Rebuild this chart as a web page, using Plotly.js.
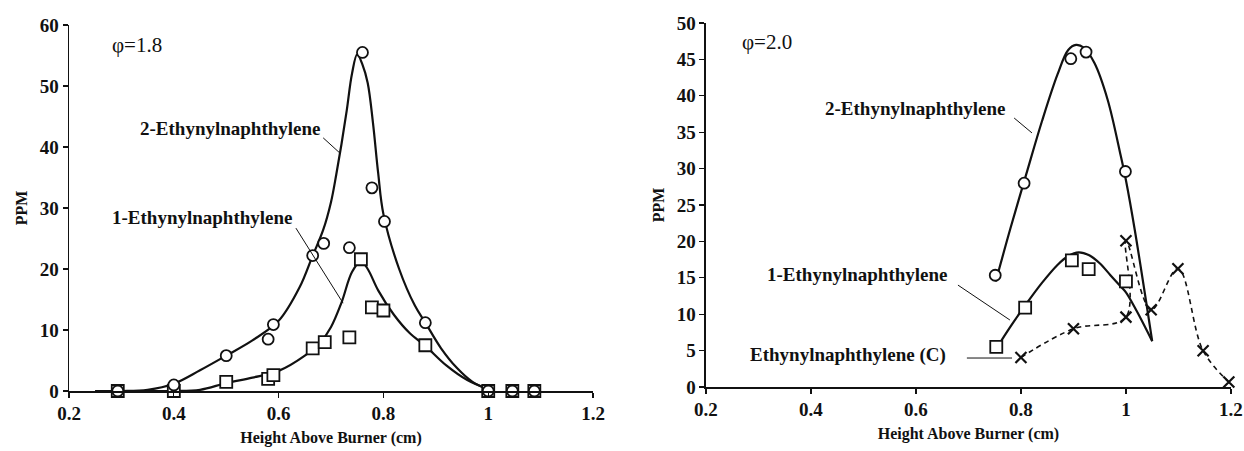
<!DOCTYPE html>
<html>
<head>
<meta charset="utf-8">
<script src="https://cdn.plot.ly/plotly-3.0.1.min.js"></script>
<style>
  html, body { margin: 0; padding: 0; background: #fff; }
  #chart { width: 1244px; height: 451px; }
</style>
</head>
<body>
<div id="chart"></div>
<script>
// ---- phi = 1.8 : measured concentrations (PPM) vs height above burner (cm)
const h18_2EN   = [0.293, 0.40, 0.50, 0.58, 0.59, 0.665, 0.686, 0.735, 0.76, 0.778, 0.802, 0.88, 1.0, 1.046, 1.088];
const ppm18_2EN = [0, 1.0, 5.8, 8.5, 10.9, 22.2, 24.2, 23.5, 55.5, 33.3, 27.8, 11.2, 0, 0, 0];
const h18_1EN   = [0.293, 0.40, 0.50, 0.58, 0.59, 0.665, 0.688, 0.735, 0.757, 0.778, 0.80, 0.88, 1.0, 1.046, 1.088];
const ppm18_1EN = [0, 0, 1.5, 2.0, 2.6, 7.0, 8.0, 8.8, 21.6, 13.7, 13.2, 7.5, 0, 0, 0];

// phi = 1.8 : fitted curves
const fitH18_2EN   = [0.25, 0.30, 0.35, 0.40, 0.45, 0.50, 0.55, 0.60, 0.64, 0.665, 0.685, 0.70, 0.71, 0.72, 0.73, 0.74, 0.75, 0.76, 0.77, 0.78, 0.79, 0.80, 0.83, 0.86, 0.88, 0.91, 0.94, 0.97, 1.00];
const fitPPM18_2EN = [0, 0, 0.2, 1.2, 3.4, 5.8, 8.3, 11.5, 17, 22.2, 26.4, 31, 35.5, 40.5, 46, 52, 55.2, 53.5, 50.5, 44, 35.7, 29, 20, 14, 11.2, 7, 3.8, 1.5, 0.3];
const fitH18_1EN   = [0.25, 0.30, 0.35, 0.40, 0.45, 0.50, 0.55, 0.60, 0.65, 0.68, 0.70, 0.72, 0.74, 0.757, 0.77, 0.79, 0.82, 0.85, 0.88, 0.92, 0.96, 1.00];
const fitPPM18_1EN = [0, 0, 0, 0, 0.2, 1.3, 2.2, 3.3, 5.8, 8, 10.5, 14.5, 19.5, 21.3, 20, 16.5, 12.5, 9.5, 7.4, 4.2, 1.8, 0.3];

// ---- phi = 2.0 : measured concentrations
const h20_2EN    = [0.751, 0.806, 0.895, 0.924, 0.999];
const ppm20_2EN  = [15.35, 28.0, 45.1, 46.0, 29.6];
const h20_1EN    = [0.753, 0.808, 0.897, 0.929, 1.0];
const ppm20_1EN  = [5.5, 10.9, 17.4, 16.2, 14.5];
const h20_ENC    = [0.80, 0.90, 1.0, 1.0, 1.048, 1.099, 1.147, 1.196];
const ppm20_ENC  = [4.06, 8.0, 9.6, 20.1, 10.6, 16.25, 4.97, 0.68];

// phi = 2.0 : fitted curves
const fitH20_2EN   = [0.752, 0.78, 0.81, 0.84, 0.87, 0.89, 0.905, 0.92, 0.94, 0.965, 0.99, 1.0, 1.017, 1.05];
const fitPPM20_2EN = [14.5, 21.8, 29.2, 36.5, 43, 46.3, 47, 46.6, 44.5, 39.5, 31.8, 28.4, 21.5, 6.3];
const fitH20_1EN   = [0.755, 0.78, 0.81, 0.84, 0.87, 0.89, 0.91, 0.93, 0.95, 0.97, 0.99, 1.0, 1.02, 1.05];
const fitPPM20_1EN = [5.5, 8.3, 11.4, 14.3, 16.8, 18.0, 18.5, 18.1, 17.0, 15.4, 13.8, 13.0, 10.5, 6.3];

// shared axis ticks
const xTickVals = [0.2, 0.4, 0.6, 0.8, 1.0, 1.2];
const xTickText = ['0.2', '0.4', '0.6', '0.8', '1', '1.2'];
const yTickVals18 = [0, 10, 20, 30, 40, 50, 60];
const yTickVals20 = [0, 5, 10, 15, 20, 25, 30, 35, 40, 45, 50];
const xRange = [0.2, 1.2];
const yRange18 = [0, 60];
const yRange20 = [0, 50];

const INK = '#111';
const SERIF = 'Liberation Serif, Times New Roman, serif';
const bold = (labels) => labels.map(t => '<b>' + t + '</b>');

function curve(x, y, xa, ya, dash) {
  return {
    x: x, y: y, xaxis: xa, yaxis: ya, type: 'scatter', mode: 'lines',
    line: { color: INK, width: dash ? 1.6 : 2.2, shape: 'spline', smoothing: 1, dash: dash || 'solid' },
    hoverinfo: 'skip', cliponaxis: false
  };
}
function points(x, y, xa, ya, symbol, size) {
  const open = symbol.indexOf('x') === 0;
  return {
    x: x, y: y, xaxis: xa, yaxis: ya, type: 'scatter', mode: 'markers',
    marker: {
      symbol: symbol, size: size,
      color: open ? INK : '#fff',
      line: { color: INK, width: open ? 2.2 : 1.8 }
    },
    cliponaxis: false
  };
}

const data = [
  curve(fitH18_2EN, fitPPM18_2EN, 'x', 'y'),
  curve(fitH18_1EN, fitPPM18_1EN, 'x', 'y'),
  points(h18_1EN, ppm18_1EN, 'x', 'y', 'square', 12),
  points(h18_2EN, ppm18_2EN, 'x', 'y', 'circle', 11),

  curve(fitH20_2EN, fitPPM20_2EN, 'x2', 'y2'),
  curve(fitH20_1EN, fitPPM20_1EN, 'x2', 'y2'),
  curve(h20_ENC, ppm20_ENC, 'x2', 'y2', '5px,4px'),
  points(h20_1EN, ppm20_1EN, 'x2', 'y2', 'square', 12),
  points(h20_2EN, ppm20_2EN, 'x2', 'y2', 'circle', 11),
  points(h20_ENC, ppm20_ENC, 'x2', 'y2', 'x-thin-open', 11)
];

const tickFont = { family: SERIF, size: 19, color: INK, weight: 'bold' };
const titleFont = { family: SERIF, size: 16, color: INK, weight: 'bold' };

function xAxis(domain, anchor) {
  return {
    domain: domain, anchor: anchor, range: xRange,
    tickvals: xTickVals, ticktext: bold(xTickText),
    showline: true, linecolor: INK, linewidth: 1.5,
    ticks: 'outside', ticklen: 5, tickwidth: 1.2, tickcolor: INK,
    showgrid: false, zeroline: false, automargin: false,
    tickfont: tickFont,
    title: { text: 'Height Above Burner (cm)', font: titleFont, standoff: 8 }
  };
}
function yAxis(domain, anchor, range, vals) {
  return {
    domain: domain, anchor: anchor, range: range,
    tickvals: vals, ticktext: bold(vals.map(String)),
    showline: true, linecolor: INK, linewidth: 1.5,
    ticks: 'outside', ticklen: 5, tickwidth: 1.2, tickcolor: INK,
    showgrid: false, zeroline: false, automargin: false,
    tickfont: tickFont,
    title: { text: 'PPM', font: titleFont, standoff: 8 }
  };
}
// companion axes that add the inner half of each tick, so ticks cross the axis line
function innerTicks(over, anchor, range, vals) {
  return {
    overlaying: over, anchor: anchor, range: range, tickvals: vals,
    ticks: 'inside', ticklen: 5, tickwidth: 1.2, tickcolor: INK,
    showticklabels: false, showline: false, showgrid: false, zeroline: false,
    automargin: false
  };
}

const labelFont = { family: SERIF, size: 19, color: INK, weight: 'bold' };
const phiFont = { family: SERIF, size: 21, color: INK };

function label(text, x, y, xa, ya, anchor, font) {
  return { text: text, x: x, y: y, xref: xa, yref: ya, xanchor: anchor, yanchor: 'middle',
           showarrow: false, font: font || labelFont };
}
function leader(x0, y0, x1, y1, xa, ya) {
  return { type: 'line', xref: xa, yref: ya, x0: x0, y0: y0, x1: x1, y1: y1,
           line: { color: INK, width: 1 } };
}

const layout = {
  width: 1244, height: 451,
  margin: { l: 0, r: 0, t: 0, b: 0 },
  paper_bgcolor: '#fff', plot_bgcolor: '#fff',
  showlegend: false,
  xaxis: xAxis([0.0555, 0.4767], 'y'),
  yaxis: yAxis([0.133, 0.9446], 'x', yRange18, yTickVals18),
  xaxis2: xAxis([0.5675, 0.9895], 'y2'),
  yaxis2: yAxis([0.1419, 0.949], 'x2', yRange20, yTickVals20),
  xaxis3: innerTicks('x', 'y', xRange, xTickVals),
  yaxis3: innerTicks('y', 'x', yRange18, yTickVals18),
  xaxis4: innerTicks('x2', 'y2', xRange, xTickVals),
  yaxis4: innerTicks('y2', 'x2', yRange20, yTickVals20),
  annotations: [
    label('\u03c6=1.8', 0.278, 56.7, 'x', 'y', 'left', phiFont),
    label('2-Ethynylnaphthylene', 0.332, 43.1, 'x', 'y', 'left'),
    label('1-Ethynylnaphthylene', 0.278, 28.5, 'x', 'y', 'left'),

    label('\u03c6=2.0', 0.265, 47.4, 'x2', 'y2', 'left', phiFont),
    label('2-Ethynylnaphthylene', 0.423, 38.3, 'x2', 'y2', 'left'),
    label('1-Ethynylnaphthylene', 0.665, 15.4, 'x2', 'y2', 'right'),
    label('Ethynylnaphthylene (C)', 0.661, 4.4, 'x2', 'y2', 'right')
  ],
  shapes: [
    leader(0.685, 41.5, 0.717, 39.0, 'x', 'y'),
    leader(0.633, 26.7, 0.723, 14.4, 'x', 'y'),
    leader(0.787, 36.95, 0.821, 34.9, 'x2', 'y2'),
    leader(0.680, 14.0, 0.779, 9.2, 'x2', 'y2'),
    leader(0.697, 3.98, 0.783, 3.98, 'x2', 'y2')
  ]
};

Plotly.newPlot('chart', data, layout, { staticPlot: true, displayModeBar: false });
</script>
</body>
</html>
